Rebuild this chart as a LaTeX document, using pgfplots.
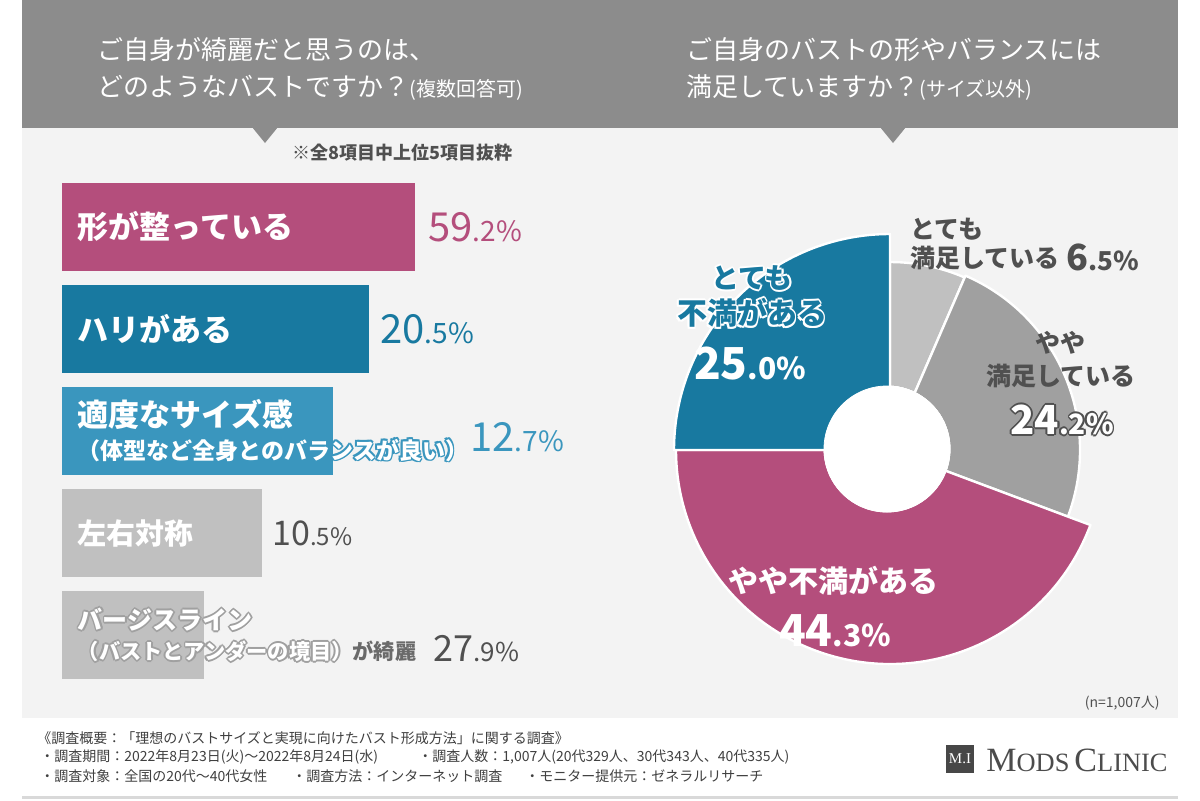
\documentclass[border=0pt]{standalone}
\usepackage{pgfplots}
\pgfplotsset{compat=1.18}
\usepackage{pgfplotstable}
\usepackage{fontspec}
\setmainfont{Noto Sans CJK JP}
\newfontfamily\logofont{Liberation Serif}

\definecolor{pinkc}{RGB}{180,78,124}
\definecolor{blueD}{RGB}{24,121,160}
\definecolor{blueL}{RGB}{58,150,190}
\definecolor{barG}{RGB}{192,192,192}
\definecolor{pieGa}{RGB}{192,192,192}
\definecolor{pieGb}{RGB}{160,160,160}
\definecolor{headG}{RGB}{140,140,140}
\definecolor{panelG}{RGB}{243,243,243}
\definecolor{txtD}{RGB}{80,80,80}
\definecolor{outG}{RGB}{160,160,160}

\pgfdeclareplotmark{nothing}{}

\newlength\ow \setlength\ow{0.9pt}
\newcommand\outl[3]{%
  \begingroup
  \def\cp##1##2{\rlap{\kern##1\raisebox{##2}{\textcolor{#1}{#3}}}}%
  \cp{\ow}{0pt}\cp{-\ow}{0pt}\cp{0pt}{\ow}\cp{0pt}{-\ow}%
  \cp{.7\ow}{.7\ow}\cp{-.7\ow}{.7\ow}\cp{.7\ow}{-.7\ow}\cp{-.7\ow}{-.7\ow}%
  \textcolor{#2}{#3}%
  \endgroup}
\def\pctsplit#1.#2\relax{{\fontsize{\pbig}{\pbig}\selectfont #1}{\fontsize{\psmall}{\psmall}\selectfont .#2\%}}
\newcommand\pct[3]{\def\pbig{#1}\def\psmall{#2}\edef\pcttmp{#3}\expandafter\pctsplit\pcttmp\relax}

\pgfplotstableread{
idx pct cum r x y
0 6.5 0 188 0 0
1 24.2 6.5 190 0 0
2 44.3 30.7 214 0 0
3 25.0 75.0 216 0 0
}\piedata

\begin{document}
\begin{tikzpicture}[x=0.5pt, y=-0.5pt]
\path[use as bounding box] (0,0) rectangle (1200,800);
\fill[white] (0,0) rectangle (1200,800);
\fill[panelG] (22,128) rectangle (1178,718);
\fill[headG] (22,0) rectangle (1178,128);
\fill[headG] (252,127) -- (278,127) -- (265,143) -- cycle;
\fill[headG] (880,127) -- (906,127) -- (893,143) -- cycle;
\draw[black!15, line width=1.5pt] (22,797) -- (1178,797);

% titles
\node[anchor=west, text=white, inner sep=0, font=\fontsize{13}{15}\selectfont] at (97,50) {ご自身が綺麗だと思うのは、};
\node[anchor=west, text=white, inner sep=0, font=\fontsize{13}{15}\selectfont] at (97,88) {どのようなバストですか？{\fontsize{10}{12}\selectfont (複数回答可)}};
\node[anchor=west, text=white, inner sep=0, font=\fontsize{13}{15}\selectfont] at (686,50) {ご自身のバストの形やバランスには};
\node[anchor=west, text=white, inner sep=0, font=\fontsize{13}{15}\selectfont] at (686,88) {満足していますか？{\fontsize{10}{12}\selectfont (サイズ以外)}};
\node[anchor=west, text=txtD, inner sep=0, font=\bfseries\fontsize{9}{10}\selectfont] at (292,153) {※全8項目中上位5項目抜粋};

% bar chart
\begin{axis}[
  at={(31pt,-113.5pt)}, anchor=origin,
  x=0.5pt, y=51pt, y dir=reverse,
  xmin=0, xmax=600, ymin=-0.6, ymax=4.6,
  axis line style={draw=none}, tick style={draw=none},
  xtick=\empty, ytick={0,1,2,3,4},
  yticklabels={
    {\fontsize{15.5}{18}\selectfont\textcolor{white}{形が整っている}},
    {\fontsize{15.5}{18}\selectfont\textcolor{white}{ハリがある}},
    {\fontsize{15.5}{18}\selectfont\textcolor{white}{適度なサイズ感}\\[3pt]\fontsize{11.5}{14}\selectfont\outl{blueL}{white}{（体型など全身とのバランスが良い）}},
    {\fontsize{14.5}{17}\selectfont\textcolor{white}{左右対称}},
    {\fontsize{12.5}{15}\selectfont\outl{outG}{white}{バージスライン}\\[3pt]\fontsize{10.6}{13.5}\selectfont\outl{outG}{white}{（バストとアンダーの境目）}\textcolor{txtD!85}{が綺麗}}
  },
  yticklabel style={anchor=west, xshift=12pt, align=left, font=\bfseries, inner sep=0pt},
  axis on top, clip=false,
  xbar, bar width=44pt, bar shift=0pt,
  point meta=explicit symbolic,
]
\addplot[fill=pinkc, draw=none, nodes near coords={\textcolor{pinkc}{\pct{20}{14}{\pgfplotspointmeta}}},
  every node near coord/.append style={anchor=west, inner sep=0pt, xshift=6.5pt}]
  coordinates {(353,0) [59.2]};
\addplot[fill=blueD, draw=none, nodes near coords={\textcolor{blueD}{\pct{20}{14}{\pgfplotspointmeta}}},
  every node near coord/.append style={anchor=west, inner sep=0pt, xshift=5.5pt}]
  coordinates {(307,1) [20.5]};
\addplot[fill=blueL, draw=none, nodes near coords={\textcolor{blueL}{\pct{20}{14}{\pgfplotspointmeta}}},
  every node near coord/.append style={anchor=west, inner sep=0pt, xshift=68.5pt, yshift=-3pt}]
  coordinates {(271,2) [12.7]};
\addplot[fill=barG, draw=none, nodes near coords={\textcolor{txtD}{\pct{17}{12}{\pgfplotspointmeta}}},
  every node near coord/.append style={anchor=west, inner sep=0pt, xshift=5pt}]
  coordinates {(200,3) [10.5]};
\addplot[fill=barG, draw=none, nodes near coords={\textcolor{txtD}{\pct{18}{13}{\pgfplotspointmeta}}},
  every node near coord/.append style={anchor=west, inner sep=0pt, xshift=114.5pt, yshift=-7pt}]
  coordinates {(142,4) [27.9]};
\end{axis}

% pie chart
\begin{axis}[
  at={(445pt,-225pt)}, anchor=origin,
  x=0.5pt, y=0.5pt,
  xmin=-230, xmax=230, ymin=-230, ymax=230,
  hide axis, clip=false,
]
\addplot[scatter, only marks, mark=nothing,
  point meta=\thisrow{idx},
  visualization depends on={\thisrow{idx} \as \vidx},
  visualization depends on={\thisrow{pct} \as \vpct},
  visualization depends on={\thisrow{cum} \as \vcum},
  visualization depends on={\thisrow{r} \as \vr},
  scatter/@pre marker code/.code={%
    \pgfmathsetmacro\sa{90-3.6*\vcum}%
    \pgfmathsetmacro\ea{90-3.6*(\vcum+\vpct)}%
    \pgfmathsetmacro\rr{0.5*\vr}%
    \pgfmathtruncatemacro\ii{round(\vidx)}%
    \ifcase\ii\relax\def\vc{pieGa}\or\def\vc{pieGb}\or\def\vc{pinkc}\else\def\vc{blueD}\fi
    \fill[fill=\vc, draw=white, line width=1.2pt, line join=round]
      (0pt,0pt) -- (\sa:\rr pt) arc[start angle=\sa, end angle=\ea, radius=\rr pt] -- cycle;
    \fill[white] (-1.5pt,0.5pt) circle[radius=31.5pt];
  },
  scatter/@post marker code/.code={},
] table[x=x, y=y] {\piedata};
\end{axis}

% pie labels
\node[anchor=west, inner sep=0, text=txtD, font=\bfseries\fontsize{12.5}{14}\selectfont] at (910,229) {とても};
\node[anchor=west, inner sep=0, text=txtD, font=\bfseries\fontsize{12.5}{14}\selectfont] at (910,258) {満足している};
\node[anchor=west, inner sep=0, text=txtD, font=\bfseries] at (1066,257) {\pct{18}{13}{6.5}};

\node[inner sep=0, text=txtD, font=\bfseries\fontsize{12.5}{14}\selectfont] at (1060,343) {やや};
\node[inner sep=0, text=txtD, font=\bfseries\fontsize{12.5}{14}\selectfont] at (1061,376) {満足している};
\node[inner sep=0, font=\bfseries] at (1062,420) {\outl{txtD}{white}{\pct{20}{14}{24.2}}};

\node[inner sep=0, font=\bfseries\fontsize{14}{16}\selectfont] at (752,278) {\outl{white}{blueD}{とても}};
\node[inner sep=0, font=\bfseries\fontsize{15}{17}\selectfont] at (752,313) {\outl{white}{blueD}{不満がある}};
\node[inner sep=0, text=white, font=\bfseries] at (750,364) {\pct{22}{15}{25.0}};

\node[inner sep=0, text=white, font=\bfseries\fontsize{15}{17}\selectfont] at (833,581) {やや不満がある};
\node[inner sep=0, text=white, font=\bfseries] at (835,631) {\pct{22}{15}{44.3}};

\node[anchor=east, inner sep=0, text=txtD, font=\fontsize{7}{8}\selectfont] at (1160,703) {(n=1,007人)};

% footer
\node[anchor=west, inner sep=0, text=black!75, font=\fontsize{7}{8}\selectfont] at (37,738) {《調査概要：「理想のバストサイズと実現に向けたバスト形成方法」に関する調査》};
\node[anchor=west, inner sep=0, text=black!75, font=\fontsize{7}{8}\selectfont] at (40,757) {・調査期間：2022年8月23日(火)～2022年8月24日(水)};
\node[anchor=west, inner sep=0, text=black!75, font=\fontsize{7}{8}\selectfont] at (418,757) {・調査人数：1,007人(20代329人、30代343人、40代335人)};
\node[anchor=west, inner sep=0, text=black!75, font=\fontsize{7}{8}\selectfont] at (40,776) {・調査対象：全国の20代～40代女性};
\node[anchor=west, inner sep=0, text=black!75, font=\fontsize{7}{8}\selectfont] at (292,776) {・調査方法：インターネット調査};
\node[anchor=west, inner sep=0, text=black!75, font=\fontsize{7}{8}\selectfont] at (525,776) {・モニター提供元：ゼネラルリサーチ};

% logo
\node[fill=black!72, text=white, inner sep=0, minimum width=14pt, minimum height=14pt, font=\logofont\fontsize{7.5}{7.5}\selectfont] at (960,759) {M.I};
\node[anchor=west, inner sep=0, text=black!70, font=\logofont] at (986,760) {{\fontsize{17}{17}\selectfont M}{\fontsize{13.2}{13.2}\selectfont ODS} {\fontsize{17}{17}\selectfont C}{\fontsize{13.2}{13.2}\selectfont LINIC}};
\end{tikzpicture}
\end{document}
